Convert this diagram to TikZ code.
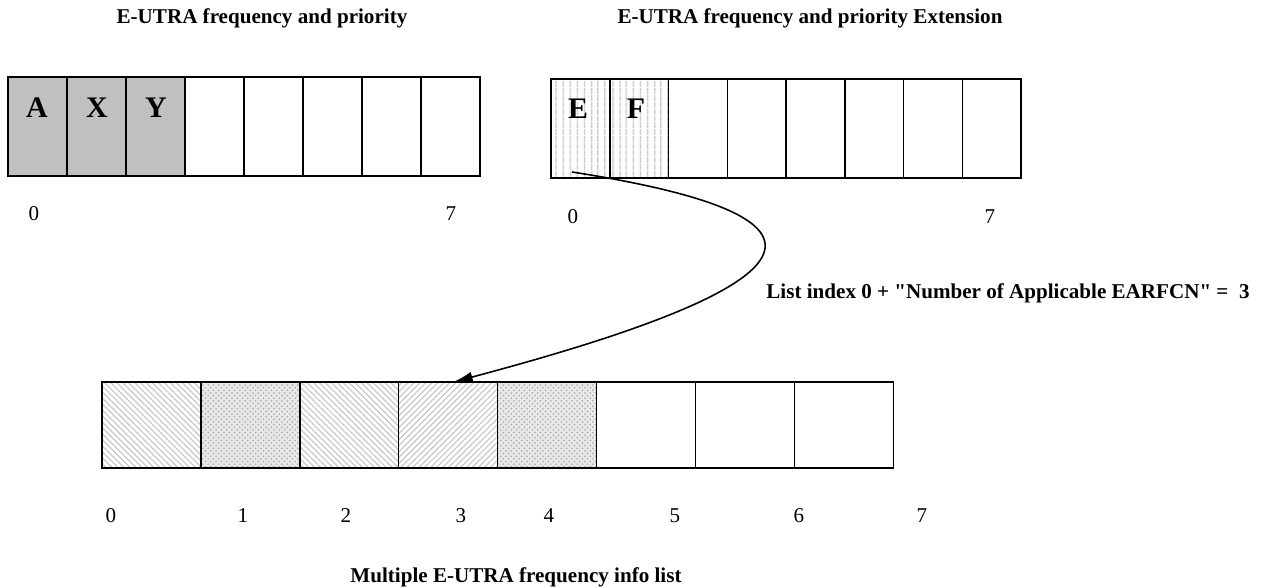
\documentclass[tikz,border=0pt]{standalone}
\usepackage{fontspec}
\setmainfont{Liberation Serif}[Ligatures=TeXOff]
\usetikzlibrary{arrows.meta,patterns,patterns.meta,positioning}

\definecolor{cellgray}{RGB}{192,192,192}
\definecolor{hatchgray}{RGB}{200,200,200}
\definecolor{stipple}{RGB}{232,232,232}

\tikzset{
  cell/.style={draw, line width=0.7pt, inner sep=0pt, outer sep=0pt,
    minimum width=1.18cm, minimum height=1.98cm},
  widecell/.style={cell, line width=0.85pt, minimum width=1.978cm, minimum height=1.72cm},
  vlines/.style={pattern={Lines[angle=90,distance=4pt,line width=1pt]}, pattern color=hatchgray},
  nwlines/.style={pattern={Lines[angle=-45,distance=2.4pt,line width=0.7pt]}, pattern color=hatchgray},
  nelines/.style={pattern={Lines[angle=45,distance=2.4pt,line width=0.7pt]}, pattern color=hatchgray},
  dotted cell/.style={preaction={fill=stipple}, pattern=crosshatch dots, pattern color=gray!70},
  entry/.style={font=\fontsize{17}{20}\selectfont\bfseries},
  idx/.style={font=\fontsize{12}{14}\selectfont},
  caption/.style={font=\fontsize{12}{14}\selectfont\bfseries},
}

\begin{document}
\begin{tikzpicture}[x=0.02cm,y=-0.02cm]
\useasboundingbox (0,0) rectangle (1264,588);

% E-UTRA frequency and priority
\node[caption] (titleA) at (262,18) {E-UTRA frequency and priority};
\node[cell, fill=cellgray] (a0) at (37.5,126.5) {};
\node[cell, fill=cellgray] (a1) at (96.5,126.5) {};
\node[cell, fill=cellgray] (a2) at (155.5,126.5) {};
\node[cell] (a3) at (214.5,126.5) {};
\node[cell] (a4) at (273.5,126.5) {};
\node[cell] (a5) at (332.5,126.5) {};
\node[cell] (a6) at (391.5,126.5) {};
\node[cell] (a7) at (450.5,126.5) {};
\node[entry] (A) at (37,108) {A};
\node[entry] (X) at (97,108) {X};
\node[entry] (Y) at (156,108) {Y};
\node[idx] (a0idx) at (34,214) {0};
\node[idx] (a7idx) at (451,214) {7};

% E-UTRA frequency and priority Extension
\node[caption] (titleB) at (810,18) {E-UTRA frequency and priority Extension};
\node[cell, vlines] (b0) at (580.4,128.5) {};
\node[cell, vlines] (b1) at (639.1,128.5) {};
\node[cell] (b2) at (697.9,128.5) {};
\node[cell] (b3) at (756.6,128.5) {};
\node[cell] (b4) at (815.4,128.5) {};
\node[cell] (b5) at (874.1,128.5) {};
\node[cell] (b6) at (932.9,128.5) {};
\node[cell] (b7) at (991.6,128.5) {};
\node[entry] (E) at (578,109) {E};
\node[entry] (F) at (636,109) {F};
\node[idx] (b0idx) at (573,217) {0};
\node[idx] (b7idx) at (990,217) {7};

% Multiple E-UTRA frequency info list
\node[widecell, nwlines] (c0) at (151.4,425) {};
\node[widecell, dotted cell] (c1) at (250.3,425) {};
\node[widecell, nwlines] (c2) at (349.2,425) {};
\node[widecell, nelines] (c3) at (448.1,425) {};
\node[widecell, dotted cell] (c4) at (547.1,425) {};
\node[widecell] (c5) at (646,425) {};
\node[widecell] (c6) at (744.9,425) {};
\node[widecell] (c7) at (843.8,425) {};
\node[idx] (c0idx) at (111,516) {0};
\node[idx] (c1idx) at (243,516) {1};
\node[idx] (c2idx) at (346,516) {2};
\node[idx] (c3idx) at (461,516) {3};
\node[idx] (c4idx) at (549,516) {4};
\node[idx] (c5idx) at (675,516) {5};
\node[idx] (c6idx) at (799,516) {6};
\node[idx] (c7idx) at (922,516) {7};
\node[caption] (titleC) at (516,577) {Multiple E-UTRA frequency info list};

% mapping from the extension list
\coordinate (src) at (572,172);
\node[caption] (rule) at (1008,293)
  {List index 0 + "Number of Applicable EARFCN" =~~3};
\draw[line width=0.9pt, -{Latex[length=11pt,width=6pt]}]
  (src) .. controls (880,220) and (800,290) .. ([xshift=3pt]c3.north);
\end{tikzpicture}
\end{document}
